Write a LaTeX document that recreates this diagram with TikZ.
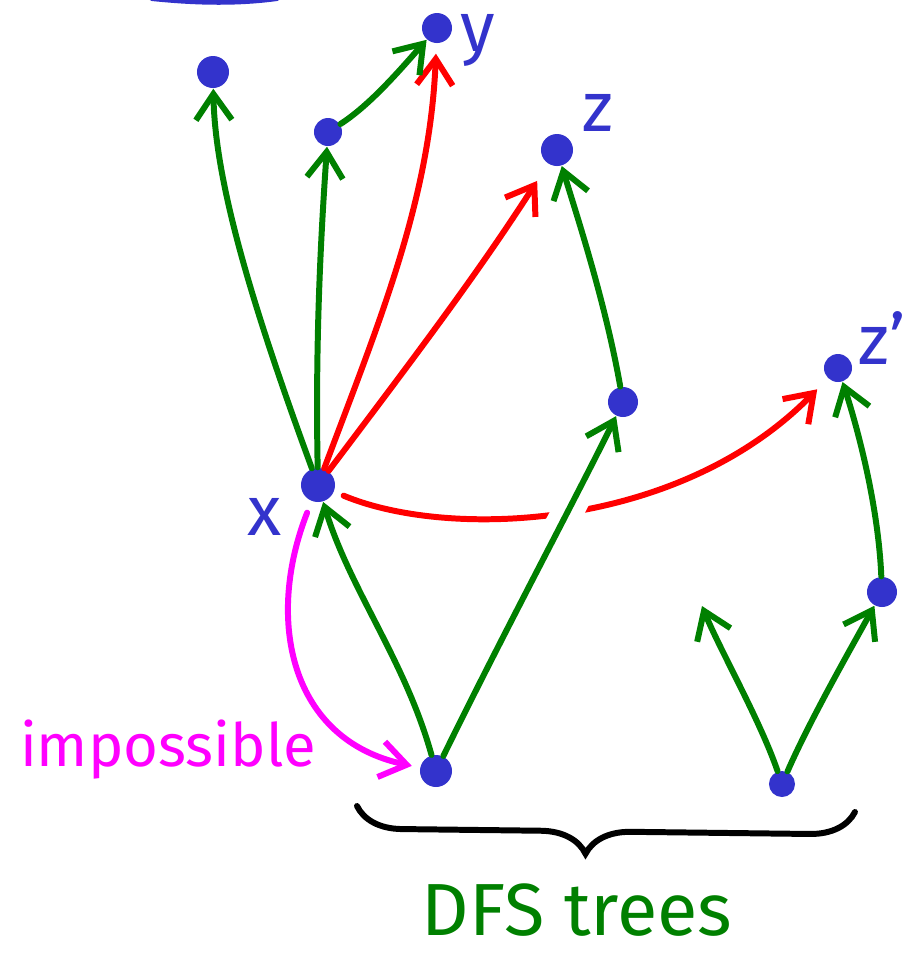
\documentclass[tikz,border=0pt]{standalone}
\usepackage{fontspec}
\setmainfont{Fira Sans}
\usepackage{tikz}
\usetikzlibrary{arrows.meta,decorations.pathreplacing}
\definecolor{myblue}{RGB}{51,51,204}
\definecolor{mygreen}{RGB}{0,128,0}
\definecolor{myred}{RGB}{255,0,0}
\definecolor{mymagenta}{RGB}{255,0,255}

\begin{document}
\begin{tikzpicture}[x=0.01cm, y=-0.01cm,
  dot/.style={circle, fill=myblue, inner sep=0pt, minimum size=#1},
  edge/.style={line width=1.7pt, line cap=round, line join=round,
               -{Straight Barb[length=2.6mm,width=3.6mm]}},
  tree/.style={edge, draw=mygreen},
  cross/.style={edge, draw=myred},
  lab/.style={text=myblue, font=\fontsize{20}{20}\selectfont}]
  \useasboundingbox (0,0) rectangle (910,953);

  % vertices
  \foreach \n/\px/\py/\d in {a/213/72/0.32cm, b/328/132/0.28cm, y/437/28/0.3cm,
                             z/557/150/0.32cm, m/623/402/0.3cm, zp/838/368/0.28cm,
                             x/318/485/0.34cm, r/436/771/0.32cm, s/882/592/0.3cm,
                             t/782/784/0.26cm}{
    \node[dot=\d] (\n) at (\px,\py) {};
  }
  \coordinate (tend) at (702,606);

  \node[lab] (ylab)  at (478,40)  {y};
  \node[lab] (zlab)  at (598,113) {z};
  \node[lab] (zplab) at (882,338) {z'};
  \node[lab] (xlab)  at (265,517) {x};

  % cut-off stroke at the top
  \draw[myblue, line width=1.7pt, line cap=round] (152,-2) .. controls (200,3) and (240,3) .. (277,-2);

  % cross edges
  \draw[cross, shorten >=1mm] (x) .. controls (380,320) and (430,200) .. (y);
  \draw[cross, shorten >=2mm] (x) .. controls (420,350) and (480,270) .. (z);
  \draw[cross, shorten <=1mm, shorten >=1.5mm] (x) .. controls (450,540) and (680,530) .. (zp);

  % tree edges
  \draw[tree, preaction={draw=white, line width=9pt, line cap=butt, -}]
    (r) .. controls (500,640) and (580,490) .. (m);
  \draw[tree] (r) .. controls (405,660) and (350,590) .. (x);
  \draw[tree] (x) .. controls (250,300) and (215,180) .. (a);
  \draw[tree] (x) .. controls (315,330) and (322,220) .. (b);
  \draw[tree] (b) .. controls (370,105) and (400,70) .. (y);
  \draw[tree] (m) .. controls (605,300) and (575,210) .. (z);
  \draw[tree] (t) .. controls (810,720) and (850,650) .. (s);
  \draw[tree] (t) .. controls (760,720) and (720,650) .. (tend);
  \draw[tree] (s) .. controls (878,500) and (855,420) .. (zp);

  % the impossible edge
  \draw[edge, draw=mymagenta, shorten <=1.2mm, shorten >=0.8mm]
    (x) .. controls (265,620) and (290,740) .. (r);
  \node[text=mymagenta, font=\fontsize{17}{17}\selectfont] (imp) at (168,750) {impossible};

  % brace
  \coordinate (bl) at (357,806);
  \coordinate (br) at (855,812);
  \draw[black, line width=1.7pt, line cap=round, decorate,
        decoration={brace, amplitude=0.45cm, mirror, aspect=0.46}] (bl) -- (br);
  \node[text=mygreen, font=\fontsize{21}{21}\selectfont] (dfs) at (577,910) {DFS trees};
\end{tikzpicture}
\end{document}
